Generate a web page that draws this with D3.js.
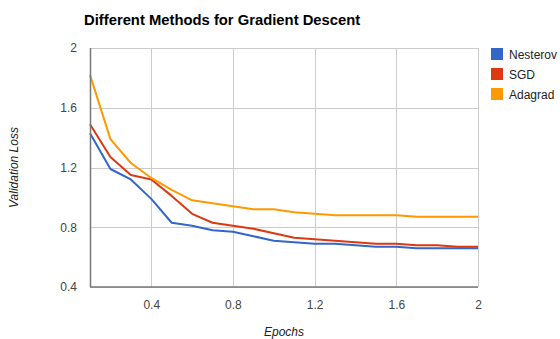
<!DOCTYPE html>
<html>
<head>
<meta charset="utf-8">
<script src="https://cdn.jsdelivr.net/npm/d3@7"></script>
<style>
  body { margin: 0; background: #fff; }
  text { font-family: "Liberation Sans", Arial, sans-serif; }
</style>
</head>
<body>
<div id="chart"></div>
<script>
// epochs on the x axis
const epochs = [0.1, 0.2, 0.3, 0.4, 0.5, 0.6, 0.7, 0.8, 0.9, 1.0,
                1.1, 1.2, 1.3, 1.4, 1.5, 1.6, 1.7, 1.8, 1.9, 2.0];

const nesterov = [1.43, 1.19, 1.12, 0.99, 0.83, 0.81, 0.78, 0.77, 0.74, 0.71,
                  0.70, 0.69, 0.69, 0.68, 0.67, 0.67, 0.66, 0.66, 0.66, 0.66];
const sgd      = [1.49, 1.27, 1.15, 1.12, 1.01, 0.89, 0.83, 0.81, 0.79, 0.76,
                  0.73, 0.72, 0.71, 0.70, 0.69, 0.69, 0.68, 0.68, 0.67, 0.67];
const adagrad  = [1.82, 1.39, 1.23, 1.13, 1.05, 0.98, 0.96, 0.94, 0.92, 0.92,
                  0.90, 0.89, 0.88, 0.88, 0.88, 0.88, 0.87, 0.87, 0.87, 0.87];

const seriesNames = ["Nesterov", "SGD", "Adagrad"];
const xTicks = [0.4, 0.8, 1.2, 1.6, 2];
const yTicks = [0.4, 0.8, 1.2, 1.6, 2];

const series = [nesterov, sgd, adagrad];
const colors = ["#3366cc", "#dc3912", "#ff9900"];

const W = 560, H = 339;
const margin = { top: 48, left: 90, bottom: 52, right: 82 };
const width = W - margin.left - margin.right,
      height = H - margin.top - margin.bottom;

let svg = d3.select("#chart")
    .append("svg")
    .attr("width", W)
    .attr("height", H);

let plot = svg.append("g")
    .attr("transform", `translate(${margin.left},${margin.top})`);

const xScale = d3.scaleLinear().domain([0.1, 2]).range([0, width]);
const yScale = d3.scaleLinear().domain([0.4, 2]).range([height, 0]);

// gridlines
plot.append("g")
    .selectAll("line")
    .data(xTicks)
    .enter()
    .append("line")
    .attr("x1", d => Math.round(xScale(d)) + 0.5)
    .attr("x2", d => Math.round(xScale(d)) + 0.5)
    .attr("y1", 0)
    .attr("y2", height)
    .attr("stroke", "#cccccc");

plot.append("g")
    .selectAll("line")
    .data(yTicks)
    .enter()
    .append("line")
    .attr("x1", 0)
    .attr("x2", width)
    .attr("y1", d => Math.round(yScale(d)) + 0.5)
    .attr("y2", d => Math.round(yScale(d)) + 0.5)
    .attr("stroke", "#cccccc");

// axes
const xAxis = d3.axisBottom(xScale).tickValues(xTicks).tickSize(0).tickPadding(13)
    .tickFormat(d3.format("~g"));
const yAxis = d3.axisLeft(yScale).tickValues(yTicks).tickSize(0).tickPadding(13)
    .tickFormat(d3.format("~g"));

let gx = plot.append("g")
    .attr("transform", `translate(0,${height})`)
    .call(xAxis);
let gy = plot.append("g")
    .call(yAxis);

[gx, gy].forEach(g => {
    g.select(".domain").remove();
    g.selectAll("text")
        .attr("fill", "#444")
        .attr("font-size", "12px")
        .attr("font-family", "Liberation Sans, Arial, sans-serif");
});

// lines
const line = d3.line()
    .x((d, i) => xScale(epochs[i]))
    .y(d => yScale(d));

series.forEach((s, i) => {
    plot.append("path")
        .datum(s)
        .attr("d", line)
        .attr("fill", "none")
        .attr("stroke", colors[i])
        .attr("stroke-width", 2)
        .attr("stroke-linejoin", "round");
});

// baselines
plot.append("line")
    .attr("x1", 0.5).attr("x2", 0.5)
    .attr("y1", 0).attr("y2", height)
    .attr("stroke", "#777").attr("stroke-width", 1.5);
plot.append("line")
    .attr("x1", 0).attr("x2", width)
    .attr("y1", height).attr("y2", height)
    .attr("stroke", "#777").attr("stroke-width", 1.5);

// title
svg.append("text")
    .attr("x", 84)
    .attr("y", 25)
    .attr("font-size", "14.8px")
    .attr("font-weight", "bold")
    .attr("fill", "#000")
    .text("Different Methods for Gradient Descent");

// axis titles
svg.append("text")
    .attr("x", margin.left + width / 2)
    .attr("y", 336)
    .attr("text-anchor", "middle")
    .attr("font-size", "12px")
    .attr("font-style", "italic")
    .attr("fill", "#222")
    .text("Epochs");

svg.append("text")
    .attr("transform", `translate(18,${margin.top + height / 2}) rotate(-90)`)
    .attr("text-anchor", "middle")
    .attr("font-size", "12px")
    .attr("font-style", "italic")
    .attr("fill", "#222")
    .text("Validation Loss");

// legend
let legend = svg.append("g")
    .attr("transform", "translate(491,48)");

seriesNames.forEach((name, i) => {
    legend.append("rect")
        .attr("x", 0)
        .attr("y", i * 20)
        .attr("width", 12)
        .attr("height", 12)
        .attr("fill", colors[i]);
    legend.append("text")
        .attr("x", 18)
        .attr("y", i * 20 + 10.5)
        .attr("font-size", "12px")
        .attr("fill", "#222")
        .text(name);
});
</script>
</body>
</html>
